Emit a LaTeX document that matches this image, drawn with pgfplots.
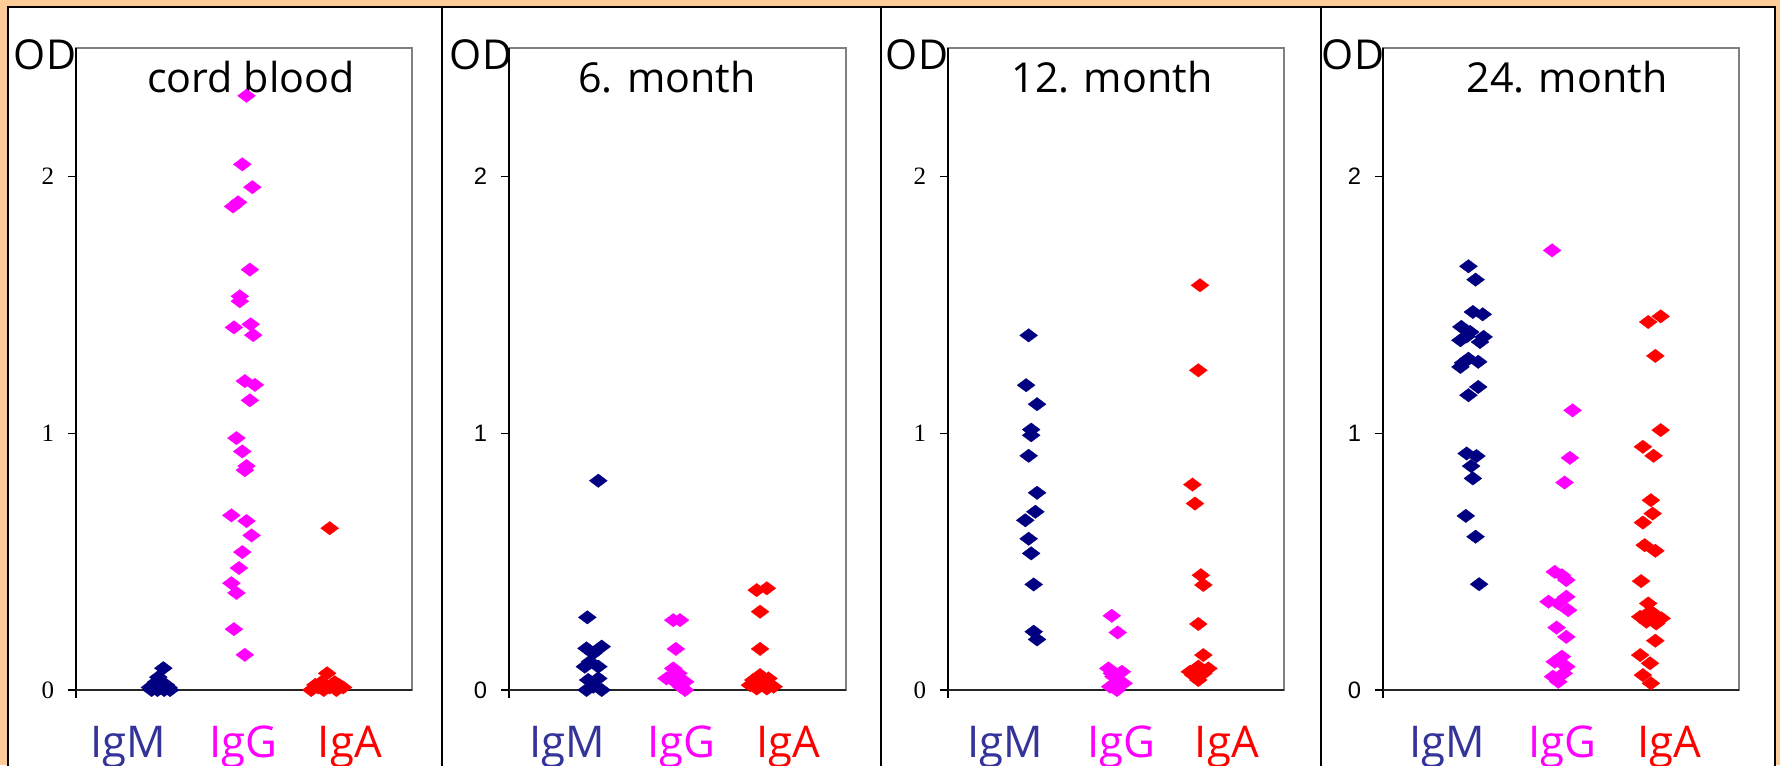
\documentclass[border=0pt]{standalone}
\usepackage{pgfplots}
\pgfplotsset{compat=1.18}
\usepackage{fontspec}
\setmainfont{Open Sans}
\newfontfamily\tms{Liberation Serif}
\newfontfamily\arl{Liberation Sans}
\definecolor{bgorange}{HTML}{FFCC99}
\definecolor{igm}{HTML}{000080}
\definecolor{igmtxt}{HTML}{333399}
\definecolor{igg}{HTML}{FF00FF}
\definecolor{iga}{HTML}{FF0000}
\definecolor{plotframe}{HTML}{808080}

% 1 px of the reference = 0.4pt
\pgfplotsset{
  odpanel/.style={
    scale only axis, anchor=south west, height=256.8pt,
    xmin=0, xmax=4, ymin=0, ymax=2.5, ytick={0,1,2},
    ytick pos=left, xtick pos=bottom,
    tick align=outside, major tick length=3.2pt,
    y tick style={black, line width=0.5pt}, x tick style={draw=none},
    axis line style={plotframe, line width=0.8pt},
    /pgf/number format/assume math mode=true,
    xticklabels={\textcolor{igmtxt}{IgM},\textcolor{igg}{IgG},\textcolor{iga}{IgA}},
    xticklabel style={anchor=base, yshift=-23.6pt, font=\fontsize{17.5}{20}\selectfont},
    clip=false,
  },
  igmp/.style={only marks, mark=diamond*, mark size=3.6pt,
    mark options={rotate=90, draw=igm, fill=igm, line width=0.1pt}},
  iggp/.style={only marks, mark=diamond*, mark size=3.6pt,
    mark options={rotate=90, draw=igg, fill=igg, line width=0.1pt}},
  igap/.style={only marks, mark=diamond*, mark size=3.6pt,
    mark options={rotate=90, draw=iga, fill=iga, line width=0.1pt}},
}
\newcommand{\blackaxes}{%
  \draw[black, line width=0.6pt] (rel axis cs:0,1) -- (rel axis cs:0,0) -- ++(0,-3.2pt);
  \draw[black!85, line width=0.8pt] (rel axis cs:0,0) -- (rel axis cs:1,0);
}

\begin{document}
\begin{tikzpicture}
\useasboundingbox (0,0) rectangle (712pt,306pt);
\fill[bgorange] (0,0) rectangle (712pt,306pt);
\foreach \a/\b in {3.2/176.8, 176.8/352.2, 352.2/528.2, 528.2/710}
  \draw[black, line width=0.8pt, fill=white] (\a pt,-2pt) rectangle (\b pt,303.2pt);

\begin{scope}[font=\fontsize{16.5}{19}\selectfont]
\node[anchor=base] at (18pt,278pt) {OD};
\node[anchor=base] at (192.4pt,278pt) {OD};
\node[anchor=base] at (366.8pt,278pt) {OD};
\node[anchor=base] at (541.2pt,278pt) {OD};
\node[anchor=base] at (100.4pt,268.8pt) {cord blood};
\node[anchor=base] at (266.8pt,268.8pt) {6. month};
\node[anchor=base] at (444.8pt,268.8pt) {12. month};
\node[anchor=base] at (626.8pt,268.8pt) {24. month};
\end{scope}

% cord blood
\begin{axis}[odpanel, at={(30.4pt,30pt)}, width=134.4pt,
  xtick={0.62,1.99,3.26},
  yticklabel style={xshift=-2pt, font=\tms\fontsize{10}{12}\selectfont}]
\blackaxes
\addplot[igmp] coordinates {(1.04,0.085) (0.98,0.05) (0.88,0.01) (0.93,0.02) (0.97,0.0) (1.02,0.01) (1.07,0.02) (1.12,0.0) (0.90,0.0) (1.05,0.0) (0.95,0.03) (1.00,0.03) (1.10,0.01)};
\addplot[iggp] coordinates {(2.03,2.314) (1.98,2.047) (2.10,1.958) (1.87,1.883) (1.93,1.899) (2.07,1.637) (1.95,1.533) (1.95,1.514) (1.88,1.412) (2.08,1.424) (2.11,1.382) (2.01,1.203) (2.13,1.188) (2.07,1.128) (1.91,0.981) (1.98,0.929) (2.03,0.872) (2.01,0.856) (1.85,0.680) (2.03,0.658) (2.09,0.602) (1.98,0.537) (1.94,0.475) (1.85,0.416) (1.91,0.378) (1.88,0.237) (2.01,0.137)};
\addplot[igap] coordinates {(3.02,0.63) (2.99,0.065) (2.92,0.03) (3.08,0.03) (2.80,0.0) (2.88,0.01) (2.95,0.0) (3.02,0.01) (3.10,0.0) (3.18,0.01) (2.85,0.02) (3.13,0.02)};
\end{axis}

% 6. month
\begin{axis}[odpanel, at={(203.6pt,30pt)}, width=134.8pt,
  xtick={0.69,2.05,3.32},
  yticklabel style={xshift=-2pt, font=\arl\fontsize{9.5}{11}\selectfont}]
\blackaxes
\addplot[igmp] coordinates {(1.06,0.815) (0.93,0.283) (0.92,0.162) (1.10,0.169) (1.00,0.143) (0.90,0.091) (1.06,0.091) (0.96,0.110) (0.94,0.039) (1.06,0.045) (0.92,0.0) (1.10,0.0) (1.00,0.013)};
\addplot[iggp] coordinates {(1.95,0.272) (2.03,0.272) (1.98,0.160) (1.95,0.084) (1.91,0.052) (2.01,0.065) (2.09,0.032) (1.97,0.032) (2.04,0.013) (2.09,0.0) (1.87,0.045)};
\addplot[igap] coordinates {(2.94,0.389) (3.06,0.396) (2.98,0.305) (2.98,0.160) (2.98,0.058) (2.90,0.039) (3.08,0.045) (2.86,0.019) (3.00,0.019) (3.14,0.013) (2.94,0.006) (3.06,0.006)};
\end{axis}

% 12. month
\begin{axis}[odpanel, at={(379.2pt,30pt)}, width=134.4pt,
  xtick={0.68,2.06,3.32},
  yticklabel style={xshift=-2pt, font=\tms\fontsize{10}{12}\selectfont}]
\blackaxes
\addplot[igmp] coordinates {(0.96,1.381) (0.93,1.187) (1.06,1.113) (0.99,1.014) (0.99,0.992) (0.96,0.912) (1.06,0.768) (1.04,0.694) (0.92,0.661) (0.96,0.589) (0.99,0.532) (1.02,0.411) (1.02,0.227) (1.06,0.197)};
\addplot[iggp] coordinates {(1.95,0.289) (2.02,0.224) (1.91,0.084) (2.07,0.071) (1.97,0.052) (2.03,0.032) (1.93,0.013) (2.01,0.0) (2.09,0.026) (1.95,0.065)};
\addplot[igap] coordinates {(3.00,1.576) (2.98,1.245) (2.91,0.800) (2.94,0.726) (3.01,0.447) (3.04,0.409) (2.98,0.257) (3.04,0.136) (2.98,0.091) (3.10,0.084) (2.92,0.058) (3.04,0.065) (2.98,0.039) (2.88,0.071)};
\end{axis}

% 24. month
\begin{axis}[odpanel, at={(553.2pt,30pt)}, width=142.4pt,
  xtick={0.72,2.02,3.22},
  yticklabel style={xshift=-2pt, font=\arl\fontsize{9.5}{11}\selectfont}]
\blackaxes
\addplot[igmp] coordinates {(0.96,1.650) (1.04,1.598) (1.01,1.472) (1.12,1.463) (0.88,1.414) (0.98,1.394) (1.13,1.375) (0.87,1.362) (1.09,1.355) (0.94,1.377) (0.90,1.274) (1.07,1.278) (0.87,1.258) (0.96,1.290) (1.07,1.180) (0.96,1.148) (0.94,0.921) (1.05,0.911) (0.99,0.872) (1.01,0.824) (0.93,0.678) (1.04,0.597) (1.08,0.412)};
\addplot[iggp] coordinates {(1.90,1.712) (2.13,1.089) (2.10,0.904) (2.04,0.808) (1.93,0.460) (2.06,0.428) (2.01,0.447) (1.86,0.344) (2.06,0.363) (1.97,0.337) (2.08,0.311) (1.95,0.243) (2.06,0.207) (2.01,0.130) (1.93,0.110) (2.06,0.091) (1.91,0.052) (1.97,0.032) (2.03,0.065)};
\addplot[igap] coordinates {(3.12,1.455) (2.98,1.433) (3.06,1.301) (3.12,1.012) (2.92,0.947) (3.04,0.912) (3.01,0.739) (3.03,0.687) (2.92,0.652) (2.94,0.564) (3.06,0.542) (2.90,0.424) (2.98,0.337) (2.89,0.285) (3.04,0.298) (3.07,0.259) (2.96,0.266) (3.13,0.279) (3.00,0.305) (3.06,0.192) (2.89,0.136) (3.00,0.104) (2.92,0.058) (3.01,0.026)};
\end{axis}
\end{tikzpicture}
\end{document}
